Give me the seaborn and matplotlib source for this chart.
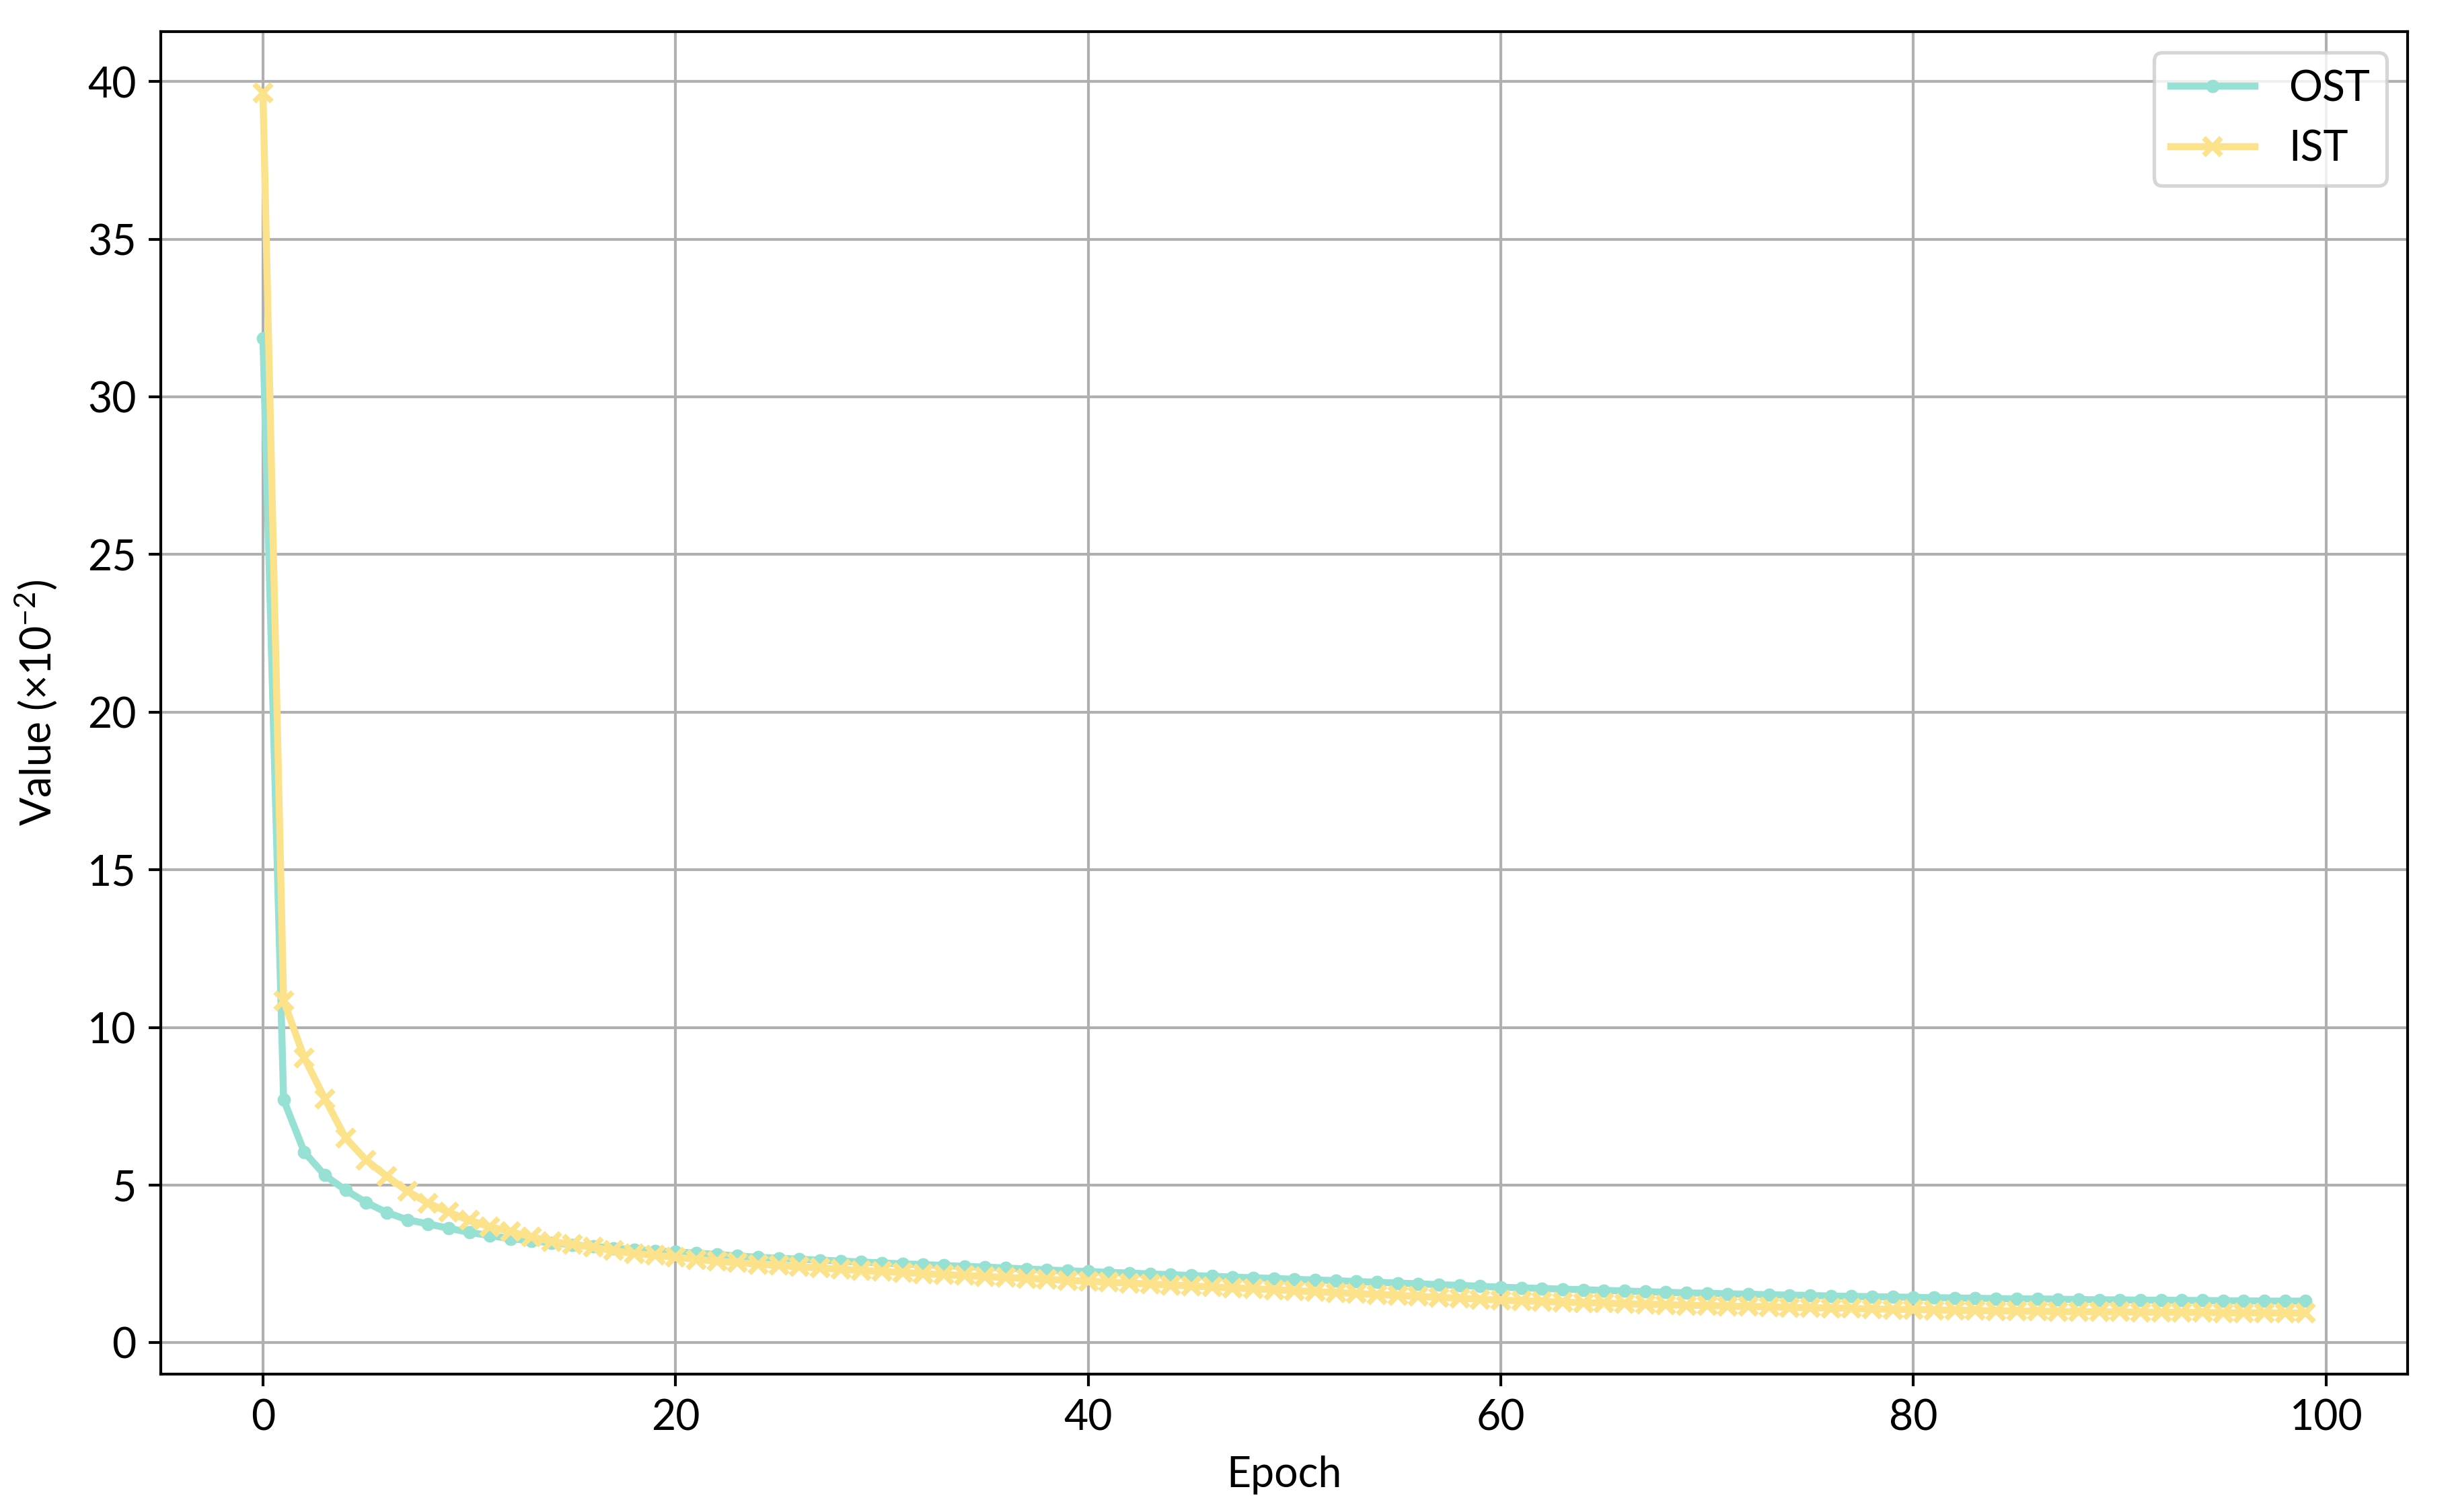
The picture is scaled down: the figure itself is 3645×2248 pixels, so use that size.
import pandas as pd
import seaborn as sns
import matplotlib.pyplot as plt

# Values per epoch (x10^-2)
epochs = list(range(100))
ost = [31.85, 7.71, 6.05, 5.31, 4.84, 4.45, 4.13, 3.90, 3.77, 3.63,
       3.50, 3.40, 3.30, 3.23, 3.17, 3.11, 3.05, 3.00, 2.95, 2.91,
       2.88, 2.84, 2.80, 2.75, 2.71, 2.68, 2.65, 2.62, 2.59, 2.56,
       2.53, 2.50, 2.48, 2.45, 2.42, 2.40, 2.37, 2.34, 2.31, 2.28,
       2.26, 2.23, 2.21, 2.18, 2.16, 2.13, 2.11, 2.08, 2.06, 2.04,
       2.01, 1.99, 1.97, 1.94, 1.92, 1.89, 1.87, 1.84, 1.82, 1.79,
       1.76, 1.74, 1.72, 1.70, 1.68, 1.66, 1.64, 1.62, 1.60, 1.58,
       1.57, 1.55, 1.54, 1.52, 1.51, 1.50, 1.48, 1.47, 1.46, 1.45,
       1.44, 1.43, 1.42, 1.41, 1.40, 1.39, 1.39, 1.38, 1.37, 1.36,
       1.36, 1.35, 1.35, 1.34, 1.34, 1.33, 1.33, 1.32, 1.32, 1.32]
ist = [39.65, 10.85, 9.04, 7.74, 6.50, 5.79, 5.28, 4.81, 4.43, 4.14,
       3.88, 3.68, 3.52, 3.36, 3.21, 3.12, 3.03, 2.92, 2.83, 2.77,
       2.72, 2.64, 2.59, 2.54, 2.49, 2.45, 2.41, 2.37, 2.33, 2.29,
       2.26, 2.23, 2.19, 2.16, 2.13, 2.10, 2.07, 2.04, 2.01, 1.98,
       1.95, 1.92, 1.89, 1.86, 1.83, 1.80, 1.77, 1.74, 1.71, 1.68,
       1.65, 1.62, 1.59, 1.56, 1.53, 1.50, 1.47, 1.44, 1.41, 1.38,
       1.35, 1.33, 1.31, 1.29, 1.27, 1.26, 1.24, 1.22, 1.21, 1.19,
       1.18, 1.16, 1.15, 1.14, 1.12, 1.11, 1.10, 1.09, 1.07, 1.06,
       1.05, 1.04, 1.03, 1.02, 1.01, 1.00, 1.00, 0.99, 0.99, 0.98,
       0.98, 0.97, 0.97, 0.96, 0.96, 0.95, 0.95, 0.95, 0.94, 0.94]

df = pd.DataFrame({'Epoch': epochs, 'OST': ost, 'IST': ist})

plt.rcParams['font.family'] = ['Lato', 'DejaVu Sans']
plt.rcParams['font.size'] = 12
plt.rcParams['mathtext.fontset'] = 'custom'
plt.rcParams['mathtext.rm'] = 'Lato'
plt.rcParams['mathtext.it'] = 'Lato:italic'

fig, ax = plt.subplots(figsize=(9.72, 5.995), dpi=375)
fig.subplots_adjust(left=0.0656, right=0.9819, top=0.979, bottom=0.0912)

sns.lineplot(data=df, x='Epoch', y='OST', ax=ax, color='#96e0d4',
             marker='o', markersize=3.8, markeredgewidth=0, linewidth=2, label='OST')
sns.lineplot(data=df, x='Epoch', y='IST', ax=ax, color='#fbe28b',
             marker='x', markersize=5, markeredgewidth=1.5, markeredgecolor='#fbe28b',
             linewidth=2, label='IST')

ax.grid(True, color='#b0b0b0', linewidth=0.8)
ax.set_axisbelow(True)
ax.set_xlabel('Epoch', labelpad=5)
ax.set_ylabel(r'Value ($\times10^{-2}$)', labelpad=8)
for s in ax.spines.values():
    s.set_color('black')
    s.set_linewidth(0.8)
ax.legend(loc='upper right')

plt.savefig('out.png', dpi=375)
